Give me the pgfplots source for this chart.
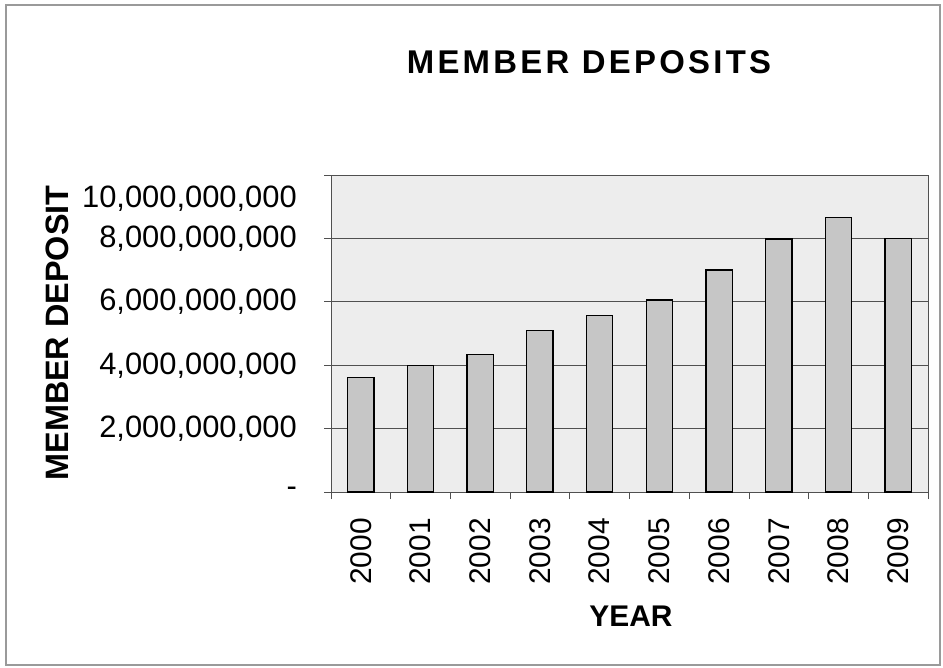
\documentclass[border=0pt]{standalone}
\usepackage{fontspec}
\setmainfont{Liberation Sans}
\usepackage{pgfplots}
\pgfplotsset{compat=1.18}
\definecolor{plotbg}{HTML}{EDEDED}
\definecolor{barfill}{HTML}{C6C6C6}
\definecolor{gridgray}{HTML}{505050}
\definecolor{framegray}{HTML}{9A9A9A}
\newcommand{\tenb}{10,000,000,000}
\begin{document}
\begin{tikzpicture}[x=1bp,y=1bp]
\path[use as bounding box] (0,0) rectangle (943,-668);
\draw[framegray, line width=1.2bp] (6,-5) rectangle (940,-665);
\begin{axis}[
  at={(331bp,-492bp)}, anchor=south west,
  scale only axis, width=597bp, height=317bp,
  axis background/.style={fill=plotbg},
  axis line style={gridgray, line width=1bp},
  xmin=-0.5, xmax=9.5, ymin=0, ymax=1e10,
  scaled ticks=false,
  tick pos=left,
  tick align=outside, major tick length=7bp,
  tick style={gridgray, line width=0.8bp},
  xtick={-0.5,0.5,1.5,2.5,3.5,4.5,5.5,6.5,7.5,8.5,9.5},
  x tick label as interval,
  xticklabels={2000,2001,2002,2003,2004,2005,2006,2007,2008,2009},
  xticklabel style={yshift=-19bp, rotate=90, anchor=east, inner sep=0pt,
    font=\fontsize{30}{36}\selectfont},
  ytick={0,2e9,4e9,6e9,8e9},
  yticklabels={{-},{2,000,000,000},{4,000,000,000},{6,000,000,000},{8,000,000,000}},
  extra y ticks={1e10},
  extra y tick labels={\tenb},
  extra y tick style={grid=none, tick label style={yshift=-24bp}},
  yticklabel style={anchor=east, inner sep=0pt, xshift=-27bp,
    font=\fontsize{31}{37}\selectfont},
  ymajorgrids=true,
  grid style={gridgray, line width=1bp},
]
\addplot[ybar, bar width=0.44, fill=barfill, draw=black, line width=1.3bp]
  coordinates {(0,3.61e9)(1,3.99e9)(2,4.33e9)(3,5.10e9)(4,5.56e9)
               (5,6.06e9)(6,7.00e9)(7,7.98e9)(8,8.67e9)(9,7.99e9)};
\end{axis}
\node[font=\bfseries\fontsize{33}{39}\selectfont\addfontfeature{LetterSpace=10}] at (589,-62) {MEMBER DEPOSITS};
\node[rotate=90, font=\bfseries\fontsize{32.5}{38}\selectfont] at (57,-333) {MEMBER DEPOSIT};
\node[font=\bfseries\fontsize{30}{36}\selectfont] at (631,-616) {YEAR};
\end{tikzpicture}
\end{document}
